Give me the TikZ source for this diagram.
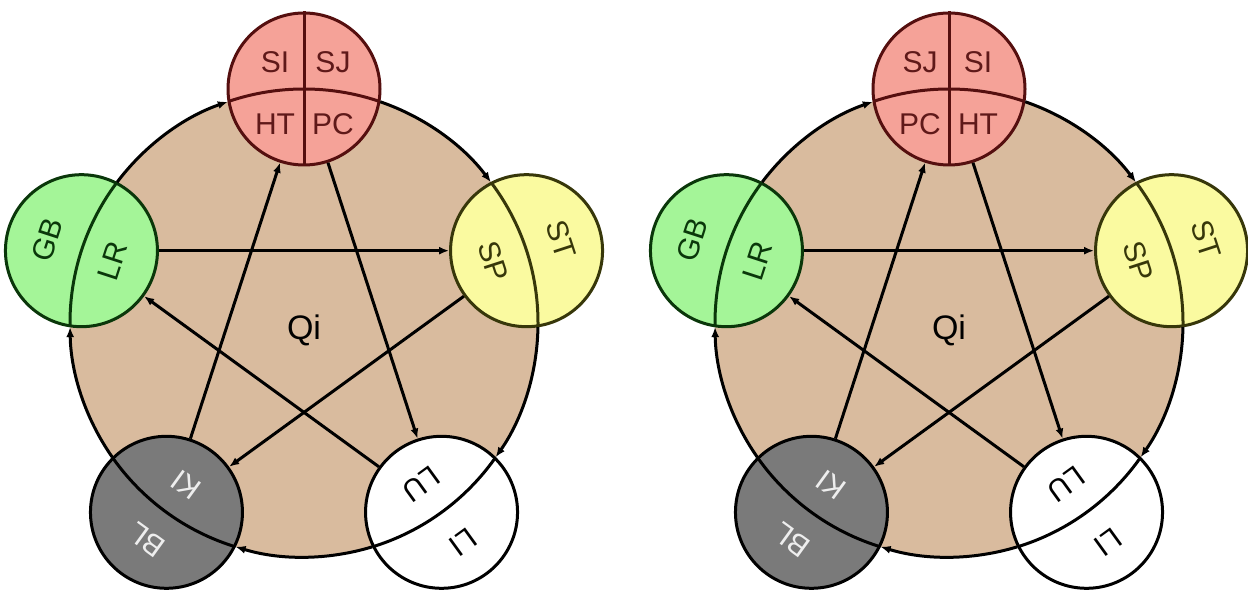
\documentclass[tikz,border=0pt]{standalone}
\usepackage{fontspec}
\setmainfont{Liberation Sans}
\usetikzlibrary{arrows.meta}
\definecolor{tanc}{RGB}{217,187,158}
\definecolor{redf}{RGB}{245,162,152}
\definecolor{redb}{RGB}{85,15,15}
\definecolor{redt}{RGB}{95,25,25}
\definecolor{grnf}{RGB}{164,245,152}
\definecolor{grnb}{RGB}{10,55,10}
\definecolor{ylwf}{RGB}{250,250,160}
\definecolor{ylwb}{RGB}{55,55,10}
\definecolor{gryf}{RGB}{122,122,122}
\definecolor{gryt}{RGB}{238,238,238}
\tikzset{
 elem/.style={circle, minimum size=152pt, inner sep=0pt, line width=3pt},
 lbl/.style={font=\fontsize{30}{32}\selectfont, inner sep=0pt},
 qilbl/.style={font=\fontsize{34}{36}\selectfont, inner sep=0pt},
 cyc/.style={line width=3pt, -{Latex[length=10pt,width=8pt]}},
 ko/.style={line width=3pt, -{Latex[length=10pt,width=8pt]}},
 divl/.style={line width=3pt},
}
\newcommand{\wxdiag}[6]{%
\begin{scope}[shift={(#2,269)}]
 \coordinate (#1C) at (0,0);
 \fill[tanc] (#1C) circle[radius=234pt];
 % element circles
 \node[elem, fill=redf, draw=redb] (#1red) at (90:234pt) {};
 \node[elem, fill=ylwf, draw=ylwb] (#1yellow) at (18:234pt) {};
 \node[elem, fill=white, draw=black] (#1white) at (-54:234pt) {};
 \node[elem, fill=gryf, draw=black] (#1grey) at (-126:234pt) {};
 \node[elem, fill=grnf, draw=grnb] (#1green) at (162:234pt) {};
 % dividers
 \begin{scope}\clip (#1red.center) circle[radius=76pt];
  \draw[divl, redb] (#1C) circle[radius=234pt];\end{scope}
 \draw[divl, redb] (#1red.north) -- (#1red.south);
 \begin{scope}\clip (#1yellow.center) circle[radius=76pt];
  \draw[divl, ylwb] (#1C) circle[radius=234pt];\end{scope}
 \begin{scope}\clip (#1white.center) circle[radius=76pt];
  \draw[divl, black] (#1C) circle[radius=234pt];\end{scope}
 \begin{scope}\clip (#1grey.center) circle[radius=76pt];
  \draw[divl, black] (#1C) circle[radius=234pt];\end{scope}
 \begin{scope}\clip (#1green.center) circle[radius=76pt];
  \draw[divl, grnb] (#1C) circle[radius=234pt];\end{scope}
 % generating cycle arcs
 \draw[cyc] (#1C) ++(71:234pt) arc[start angle=71, end angle=37, radius=234pt];
 \draw[cyc] (#1C) ++(-1:234pt) arc[start angle=-1, end angle=-35, radius=234pt];
 \draw[cyc] (#1C) ++(-73:234pt) arc[start angle=-73, end angle=-107, radius=234pt];
 \draw[cyc] (#1C) ++(-145:234pt) arc[start angle=-145, end angle=-179, radius=234pt];
 \draw[cyc] (#1C) ++(143:234pt) arc[start angle=143, end angle=109, radius=234pt];
 % controlling cycle
 \draw[ko] (#1green) -- (#1yellow);
 \draw[ko] (#1yellow) -- (#1grey);
 \draw[ko] (#1grey) -- (#1red);
 \draw[ko] (#1red) -- (#1white);
 \draw[ko] (#1white) -- (#1green);
 % labels
 \node[qilbl] (#1qi) at (0,-7) {Qi};
 \node[lbl, text=redt] (#1tl) at (-29,261) {#3};
 \node[lbl, text=redt] (#1tr) at (29,261) {#4};
 \node[lbl, text=redt] (#1bl) at (-29,199) {#5};
 \node[lbl, text=redt] (#1br) at (29,199) {#6};
 \node[lbl, text=grnb, rotate=72] (#1gb) at (162:270pt) {GB};
 \node[lbl, text=grnb, rotate=72] (#1lr) at (162:201pt) {LR};
 \node[lbl, text=ylwb, rotate=-72] (#1st) at (18:270pt) {ST};
 \node[lbl, text=ylwb, rotate=-72] (#1sp) at (18:199pt) {SP};
 \node[lbl, text=black, rotate=-144] (#1li) at (-54:271pt) {LI};
 \node[lbl, text=black, rotate=-144] (#1lu) at (-54:199pt) {LU};
 \node[lbl, text=gryt, rotate=144] (#1blx) at (-126:268pt) {BL};
 \node[lbl, text=gryt, rotate=144] (#1ki) at (-126:200pt) {KI};
\end{scope}}
\begin{document}
\begin{tikzpicture}[x=1pt,y=1pt]
\fill[white] (0,0) rectangle (1248,592);
\useasboundingbox (0,0) rectangle (1248,592);
\wxdiag{L}{304}{SI}{SJ}{HT}{PC}
\wxdiag{R}{949}{SJ}{SI}{PC}{HT}
\end{tikzpicture}
\end{document}
